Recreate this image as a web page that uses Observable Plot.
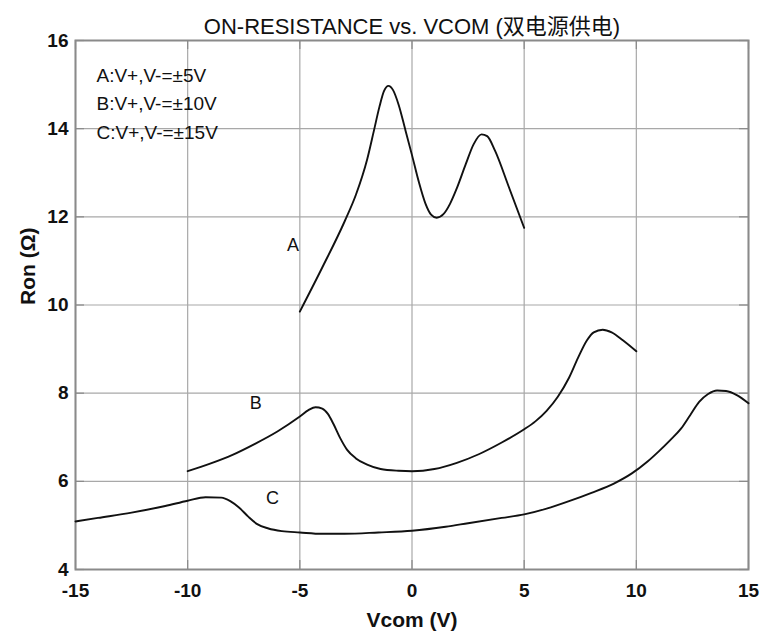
<!DOCTYPE html>
<html>
<head>
<meta charset="utf-8">
<script src="https://cdn.jsdelivr.net/npm/d3@7"></script>
<script src="https://cdn.jsdelivr.net/npm/@observablehq/plot@0.6"></script>
<style>
  html, body { margin: 0; padding: 0; background: #fff; }
</style>
</head>
<body>
<div id="chart"></div>
<script>
// ---- data ----
const titleText = "ON-RESISTANCE vs. VCOM (双电源供电)";
const xLabel = "Vcom (V)";
const yLabel = "Ron (Ω)";
const xTicks = [-15, -10, -5, 0, 5, 10, 15];
const yTicks = [4, 6, 8, 10, 12, 14, 16];
const legendLines = ["A:V+,V-=±5V", "B:V+,V-=±10V", "C:V+,V-=±15V"];

const seriesNames = ["A", "B", "C"];
const aVcom = [-5, -4, -3, -2.5, -2, -1.7, -1.45, -1.25, -1.05, -0.85, -0.6, -0.3, 0, 0.3, 0.6, 0.85, 1.1, 1.4, 1.7, 2.0, 2.4, 2.75, 3.1, 3.35, 3.7, 4.3, 5];
const aRon  = [9.85, 10.85, 11.9, 12.5, 13.3, 13.95, 14.5, 14.85, 14.97, 14.88, 14.55, 13.98, 13.4, 12.8, 12.3, 12.05, 11.98, 12.06, 12.3, 12.65, 13.2, 13.65, 13.87, 13.83, 13.5, 12.7, 11.75];
const bVcom = [-10, -9, -8, -7, -6, -5, -4.6, -4.3, -4.0, -3.75, -3.5, -3.2, -2.9, -2.5, -2.0, -1.4, -0.6, 0, 1, 2, 3, 4, 5, 5.5, 6, 6.5, 7, 7.4, 7.8, 8.1, 8.5, 8.9, 9.4, 10];
const bRon  = [6.23, 6.4, 6.6, 6.85, 7.13, 7.47, 7.62, 7.68, 7.65, 7.53, 7.3, 6.98, 6.72, 6.52, 6.38, 6.28, 6.24, 6.23, 6.28, 6.42, 6.62, 6.88, 7.18, 7.36, 7.6, 7.92, 8.35, 8.8, 9.2, 9.38, 9.44, 9.38, 9.2, 8.95];
const cVcom = [-15, -14, -12.5, -11, -10, -9.2, -8.5, -8.1, -7.7, -7.3, -6.9, -6.4, -5.8, -5, -4, -3, -1.5, 0, 1.5, 2.5, 4, 5, 6, 7, 8, 9, 9.8, 10.5, 11, 11.5, 12, 12.4, 12.8, 13.2, 13.6, 14.0, 14.5, 15];
const cRon  = [5.09, 5.17, 5.29, 5.44, 5.56, 5.64, 5.63, 5.55, 5.4, 5.2, 5.03, 4.93, 4.87, 4.84, 4.81, 4.81, 4.84, 4.88, 4.97, 5.05, 5.17, 5.25, 5.38, 5.55, 5.74, 5.95, 6.18, 6.45, 6.68, 6.93, 7.2, 7.5, 7.8, 7.98, 8.06, 8.05, 7.95, 7.77];

const curveLabels = ["A", "B", "C"];
const curveLabelX = [-5.3, -6.96, -6.22];
const curveLabelY = [11.35, 7.78, 5.61];

// ---- build table ----
const table = [];
[[aVcom, aRon], [bVcom, bRon], [cVcom, cRon]].forEach(([xs, ys], i) => {
  xs.forEach((x, j) => table.push({series: seriesNames[i], vcom: x, ron: ys[j]}));
});
const labelData = curveLabels.map((t, i) => ({t, x: curveLabelX[i], y: curveLabelY[i]}));

const W = 762, H = 639;
const mL = 75, mR = 14, mT = 40, mB = 70;
const innerW = W - mL - mR, innerH = H - mT - mB;
const gridColor = "#a8a8a8";
const frameColor = "#8a8a8a";
const font = "'Liberation Sans', Arial, 'Noto Sans CJK SC', sans-serif";

const chart = Plot.plot({
  width: W, height: H,
  marginLeft: mL, marginRight: mR, marginTop: mT, marginBottom: mB,
  style: {fontFamily: font, background: "#fff", color: "#111"},
  x: {domain: [-15, 15], axis: null},
  y: {domain: [4, 16], axis: null},
  marks: [
    Plot.gridX(xTicks, {stroke: gridColor, strokeOpacity: 1, strokeWidth: 1.2}),
    Plot.gridY(yTicks, {stroke: gridColor, strokeOpacity: 1, strokeWidth: 1.2}),
    Plot.frame({stroke: frameColor, strokeWidth: 2}),
    Plot.tickX(xTicks, {x: d => d, insetBottom: innerH - 9, stroke: frameColor, strokeWidth: 1.2}),
    Plot.tickX(xTicks, {x: d => d, insetTop: innerH - 9, stroke: frameColor, strokeWidth: 1.2}),
    Plot.tickY(yTicks, {y: d => d, insetRight: innerW - 9, stroke: frameColor, strokeWidth: 1.2}),
    Plot.tickY(yTicks, {y: d => d, insetLeft: innerW - 9, stroke: frameColor, strokeWidth: 1.2}),
    Plot.line(table, {x: "vcom", y: "ron", z: "series", curve: "monotone-x", stroke: "#111", strokeWidth: 1.9}),
    Plot.text(labelData, {x: "x", y: "y", text: "t", fontSize: 18, fill: "#111"}),
    Plot.text([legendLines.join("\n")], {frameAnchor: "top-left", dx: 21, dy: 21, lineAnchor: "top", textAnchor: "start", lineHeight: 1.5, fontSize: 19, fill: "#111", ariaLabel: "legend"}),
    // tick labels
    Plot.text(xTicks, {x: d => d, text: d => String(d), frameAnchor: "bottom", dy: 27, fontSize: 19, fontWeight: "bold", fill: "#111"}),
    Plot.text(yTicks, {y: d => d, text: d => String(d), frameAnchor: "left", dx: -7, textAnchor: "end", fontSize: 19, fontWeight: "bold", fill: "#111"}),
    // axis labels and title
    Plot.text([xLabel], {frameAnchor: "bottom", dy: 57, fontSize: 21, fontWeight: "bold", fill: "#111"}),
    Plot.text([yLabel], {frameAnchor: "left", dx: -47, rotate: -90, fontSize: 21, fontWeight: "bold", fill: "#111"}),
    Plot.text([titleText], {frameAnchor: "top", dy: -22, fontSize: 22, fill: "#111"})
  ]
});

document.getElementById("chart").appendChild(chart);

// white background box behind the legend (hides grid lines like the reference)
try {
  const leg = chart.querySelector('[aria-label="legend"]');
  const frame = chart.querySelector('[aria-label="frame"]');
  if (leg && frame) {
    const bb = leg.getBBox();
    const r = document.createElementNS("http://www.w3.org/2000/svg", "rect");
    r.setAttribute("x", bb.x - 12);
    r.setAttribute("y", bb.y - 10);
    r.setAttribute("width", bb.width + 30);
    r.setAttribute("height", bb.height + 18);
    r.setAttribute("fill", "#fff");
    frame.parentNode.insertBefore(r, frame);
  }
} catch (e) {}
</script>
</body>
</html>
